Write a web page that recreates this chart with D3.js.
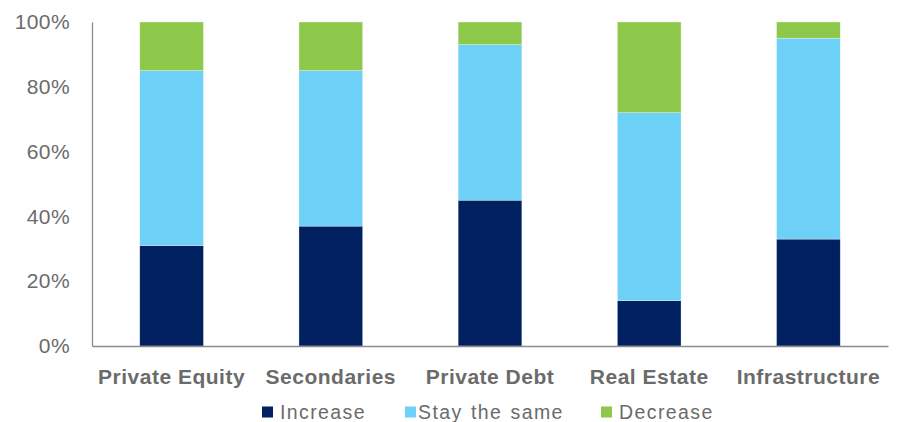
<!DOCTYPE html>
<html>
<head>
<meta charset="utf-8">
<script src="https://cdn.jsdelivr.net/npm/d3@7"></script>
<style>
  body { margin: 0; background: #fff; }
  svg text { font-family: "Liberation Sans", Arial, sans-serif; }
</style>
</head>
<body>
<svg id="chart" width="898" height="422"></svg>
<script>
const categories = ['Private Equity', 'Secondaries', 'Private Debt', 'Real Estate', 'Infrastructure'];
const increase   = [31, 37, 45, 14, 33];
const staySame   = [54, 48, 48, 58, 62];
const decrease   = [15, 15, 7, 28, 5];
const seriesNames = ['Increase', 'Stay the same', 'Decrease'];
const yTicks = [0, 20, 40, 60, 80, 100];

const COLORS = ['#00205F', '#6DD0F7', '#8DC84B'];
const TEXT = '#6b6b6b';

const svg = d3.select('#chart');
const M = { left: 92, right: 10, top: 22, bottom: 76 };
const W = 898, H = 422;

const x = d3.scaleBand().domain(categories).range([M.left, W - M.right]).paddingInner(0.6).paddingOuter(0.3);
const y = d3.scaleLinear().domain([0, 100]).range([H - M.bottom, M.top]);

const rows = categories.map((c, i) => ({ cat: c, Increase: increase[i], 'Stay the same': staySame[i], Decrease: decrease[i] }));
const stacked = d3.stack().keys(seriesNames)(rows);

svg.append('g').selectAll('g')
  .data(stacked)
  .enter().append('g')
  .attr('fill', (d, i) => COLORS[i])
  .selectAll('rect')
  .data(d => d)
  .enter().append('rect')
  .attr('x', d => x(d.data.cat))
  .attr('width', x.bandwidth())
  .attr('y', d => y(d[1]))
  .attr('height', d => y(d[0]) - y(d[1]))
  .attr('stroke', 'rgba(255,255,255,0.5)')
  .attr('stroke-width', 0.6);

// y axis
const yAxis = svg.append('g')
  .attr('transform', `translate(${M.left},0)`)
  .call(d3.axisLeft(y).tickValues(yTicks).tickFormat(d => d + '%').tickSize(0).tickPadding(22));
yAxis.select('.domain').attr('stroke', '#8c8c8c').attr('stroke-width', 1.3);
yAxis.selectAll('text').attr('fill', TEXT).attr('font-size', 21).attr('letter-spacing', 0.4);

// x axis
const xAxis = svg.append('g')
  .attr('transform', `translate(0,${y(0)})`)
  .call(d3.axisBottom(x).tickSize(0).tickPadding(23));
xAxis.select('.domain').attr('stroke', '#8c8c8c').attr('stroke-width', 1.3);
xAxis.selectAll('text').attr('fill', TEXT).attr('font-size', 21).attr('font-weight', 'bold')
  .attr('letter-spacing', 0.5);

// legend
const legendX = [262, 405, 601];
const legendTextDx = [18, 13, 18];
const lg = svg.append('g').selectAll('g')
  .data(seriesNames)
  .enter().append('g')
  .attr('transform', (d, i) => `translate(${legendX[i]},412)`);
lg.append('rect').attr('x', 0).attr('y', -5.5).attr('width', 11).attr('height', 11).attr('fill', (d, i) => COLORS[i]);
lg.append('text').attr('x', (d, i) => legendTextDx[i]).attr('dy', '0.35em').attr('fill', TEXT).attr('font-size', 19.5)
  .attr('letter-spacing', 1.4)
  .attr('word-spacing', 1.5)
  .text(d => d);
</script>
</body>
</html>
